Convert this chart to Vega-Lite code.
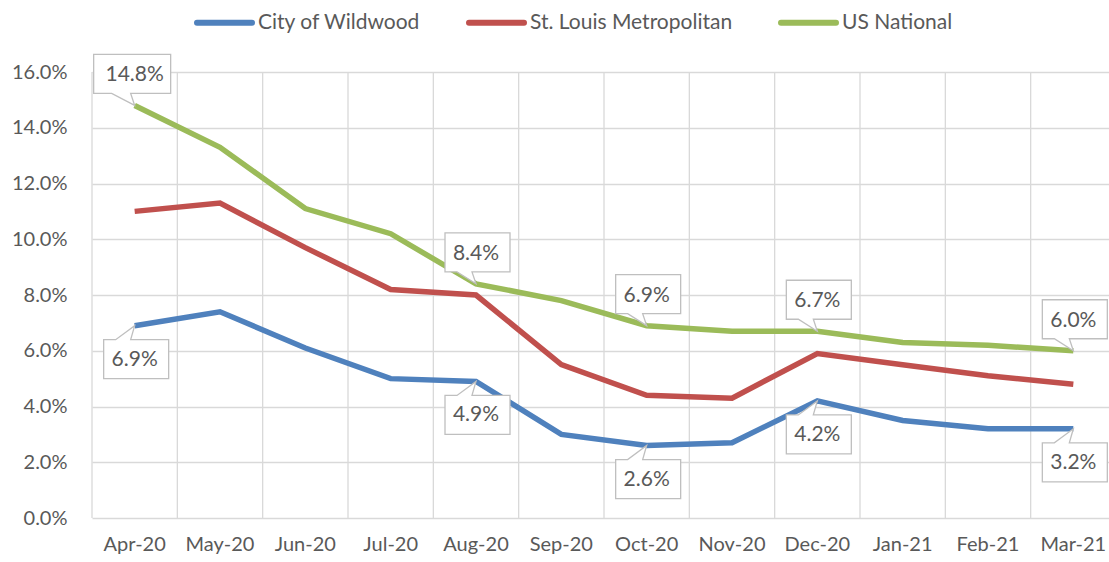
{
  "$schema": "https://vega.github.io/schema/vega-lite/v6.json",
  "autosize": {"type": "none"},
  "padding": {"left": 92, "top": 72, "right": 0, "bottom": 44},
  "width": 1017,
  "height": 446,
  "background": "white",
  "config": {
    "view": {"stroke": null},
    "font": "Lato"
  },
  "data": {
    "values": [
      {"m": "Apr-20", "s": "City of Wildwood", "v": 6.9, "lab": true},
      {"m": "May-20", "s": "City of Wildwood", "v": 7.4, "lab": false},
      {"m": "Jun-20", "s": "City of Wildwood", "v": 6.1, "lab": false},
      {"m": "Jul-20", "s": "City of Wildwood", "v": 5.0, "lab": false},
      {"m": "Aug-20", "s": "City of Wildwood", "v": 4.9, "lab": true},
      {"m": "Sep-20", "s": "City of Wildwood", "v": 3.0, "lab": false},
      {"m": "Oct-20", "s": "City of Wildwood", "v": 2.6, "lab": true},
      {"m": "Nov-20", "s": "City of Wildwood", "v": 2.7, "lab": false},
      {"m": "Dec-20", "s": "City of Wildwood", "v": 4.2, "lab": true},
      {"m": "Jan-21", "s": "City of Wildwood", "v": 3.5, "lab": false},
      {"m": "Feb-21", "s": "City of Wildwood", "v": 3.2, "lab": false},
      {"m": "Mar-21", "s": "City of Wildwood", "v": 3.2, "lab": true},
      {"m": "Apr-20", "s": "St. Louis Metropolitan", "v": 11.0, "lab": false},
      {"m": "May-20", "s": "St. Louis Metropolitan", "v": 11.3, "lab": false},
      {"m": "Jun-20", "s": "St. Louis Metropolitan", "v": 9.7, "lab": false},
      {"m": "Jul-20", "s": "St. Louis Metropolitan", "v": 8.2, "lab": false},
      {"m": "Aug-20", "s": "St. Louis Metropolitan", "v": 8.0, "lab": false},
      {"m": "Sep-20", "s": "St. Louis Metropolitan", "v": 5.5, "lab": false},
      {"m": "Oct-20", "s": "St. Louis Metropolitan", "v": 4.4, "lab": false},
      {"m": "Nov-20", "s": "St. Louis Metropolitan", "v": 4.3, "lab": false},
      {"m": "Dec-20", "s": "St. Louis Metropolitan", "v": 5.9, "lab": false},
      {"m": "Jan-21", "s": "St. Louis Metropolitan", "v": 5.5, "lab": false},
      {"m": "Feb-21", "s": "St. Louis Metropolitan", "v": 5.1, "lab": false},
      {"m": "Mar-21", "s": "St. Louis Metropolitan", "v": 4.8, "lab": false},
      {"m": "Apr-20", "s": "US National", "v": 14.8, "lab": true},
      {"m": "May-20", "s": "US National", "v": 13.3, "lab": false},
      {"m": "Jun-20", "s": "US National", "v": 11.1, "lab": false},
      {"m": "Jul-20", "s": "US National", "v": 10.2, "lab": false},
      {"m": "Aug-20", "s": "US National", "v": 8.4, "lab": true},
      {"m": "Sep-20", "s": "US National", "v": 7.8, "lab": false},
      {"m": "Oct-20", "s": "US National", "v": 6.9, "lab": true},
      {"m": "Nov-20", "s": "US National", "v": 6.7, "lab": false},
      {"m": "Dec-20", "s": "US National", "v": 6.7, "lab": true},
      {"m": "Jan-21", "s": "US National", "v": 6.3, "lab": false},
      {"m": "Feb-21", "s": "US National", "v": 6.2, "lab": false},
      {"m": "Mar-21", "s": "US National", "v": 6.0, "lab": true}
    ]
  },
  "encoding": {
    "x": {
      "field": "m", "type": "ordinal", "bandPosition": 0.5,
      "sort": ["Apr-20","May-20","Jun-20","Jul-20","Aug-20","Sep-20","Oct-20","Nov-20","Dec-20","Jan-21","Feb-21","Mar-21"],
      "scale": {"type": "band", "paddingInner": 0, "paddingOuter": 0, "range": [0, 1024]},
      "axis": {"title": null, "labelAngle": 0, "bandPosition": 0.5, "grid": false, "ticks": false, "domain": false,
        "labelFont": "Lato", "labelFontSize": 20, "labelColor": "#595959", "labelPadding": 16}
    },
    "y": {
      "field": "v", "type": "quantitative",
      "scale": {"domain": [0, 16], "nice": false},
      "axis": {"title": null, "values": [0,2,4,6,8,10,12,14,16], "labelExpr": "format(datum.value, '.1f') + '%'",
        "grid": true, "gridColor": "#d9d9d9", "gridWidth": 1.3, "ticks": false, "domain": false,
        "labelFont": "Lato", "labelFontSize": 20, "labelColor": "#595959", "labelPadding": 25}
    }
  },
  "layer": [
    {
      "transform": [{"filter": "datum.s === 'US National'"}],
      "mark": {"type": "rule", "color": "#d9d9d9", "strokeWidth": 1.3},
      "encoding": {
        "x": {
          "field": "m", "type": "ordinal", "bandPosition": 0,
          "sort": ["Apr-20","May-20","Jun-20","Jul-20","Aug-20","Sep-20","Oct-20","Nov-20","Dec-20","Jan-21","Feb-21","Mar-21"],
          "scale": {"type": "band", "paddingInner": 0, "paddingOuter": 0, "range": [0, 1024]},
          "axis": {"title": null, "labelAngle": 0, "bandPosition": 0.5, "grid": false, "ticks": false, "domain": false,
            "labelFont": "Lato", "labelFontSize": 20, "labelColor": "#595959", "labelPadding": 16}
        },
        "y": null
      }
    },
    {
      "mark": {"type": "line", "strokeWidth": 5.5},
      "encoding": {
        "color": {
          "field": "s", "type": "nominal",
          "scale": {"domain": ["City of Wildwood", "St. Louis Metropolitan", "US National"], "range": ["#4f81bd", "#c0504d", "#9bbb59"]},
          "legend": {
            "title": null, "orient": "none", "direction": "horizontal", "legendX": 102, "legendY": -80,
            "symbolType": "stroke", "symbolSize": 3025, "symbolStrokeWidth": 6,
            "labelFont": "Lato", "labelFontSize": 21, "labelColor": "#595959", "labelOffset": 3, "labelLimit": 400,
            "columnPadding": 36, "padding": 0,
            "encode": {"symbols": {"update": {"strokeCap": {"value": "round"}}}}
          }
        }
      }
    },
    {
      "transform": [{"filter": "datum.lab && datum.s === 'US National'"}],
      "mark": {"type": "point", "filled": true, "fill": "white", "stroke": "#bfbfbf", "strokeWidth": 1.3, "opacity": 1, "size": 4},
      "encoding": {
        "shape": {
          "condition": {"test": "datum.m === 'Apr-20'", "value": "M-41,-51H36V-12H-4L0,0L-23,-12H-41Z"},
          "value": "M-31,-51H34V-12H-4L0,0L-19,-12H-31Z"
        }
      }
    },
    {
      "transform": [
        {"filter": "datum.lab && datum.s === 'US National'"},
        {"calculate": "format(datum.v, '.1f') + '%'", "as": "txt"}
      ],
      "mark": {"type": "text", "font": "Lato", "fontSize": 21, "color": "#595959", "baseline": "middle", "align": "center", "dy": -30},
      "encoding": {"text": {"field": "txt", "type": "nominal"}}
    },
    {
      "transform": [{"filter": "datum.lab && datum.s === 'City of Wildwood'"}],
      "mark": {"type": "point", "filled": true, "fill": "white", "stroke": "#bfbfbf", "strokeWidth": 1.3, "opacity": 1, "size": 4, "shape": "M-31,14H-19L0,0L-4,14H34V53H-31Z"}
    },
    {
      "transform": [
        {"filter": "datum.lab && datum.s === 'City of Wildwood'"},
        {"calculate": "format(datum.v, '.1f') + '%'", "as": "txt"}
      ],
      "mark": {"type": "text", "font": "Lato", "fontSize": 21, "color": "#595959", "baseline": "middle", "align": "center", "dy": 34},
      "encoding": {"text": {"field": "txt", "type": "nominal"}}
    }
  ]
}
